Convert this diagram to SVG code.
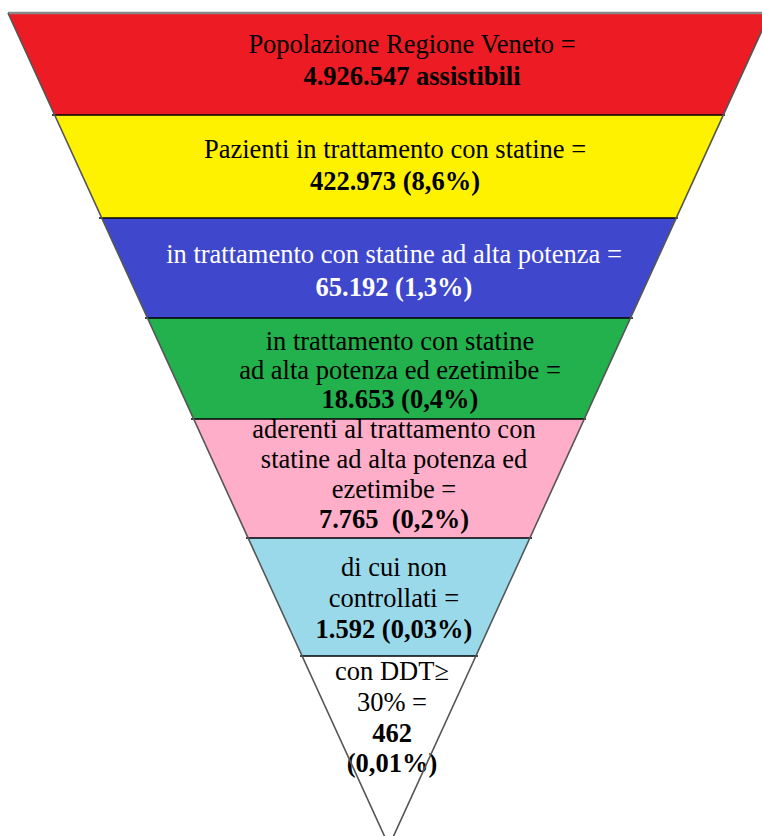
<svg xmlns="http://www.w3.org/2000/svg" width="762" height="836" viewBox="0 0 762 836">
<style>
.t{font-family:"Liberation Serif","Times New Roman",serif;font-size:26.5px;text-anchor:middle;fill:#000}
.b{font-weight:bold}
.w{fill:#fff}
.sep{stroke:#000;stroke-width:1.5;fill:none}
.edge{stroke:#555;stroke-width:1.6;fill:none}
</style>
<rect width="762" height="836" fill="#fff"/>
<g id="band1">
<polygon points="8,13 770,13 723.3,115 54.7,115" fill="#ED1C24"/>
<text class="t" x="412" y="53">Popolazione Regione Veneto =</text>
<text class="t b" x="412" y="85">4.926.547 assistibili</text>
</g>
<g id="band2">
<polygon points="54.7,115 723.3,115 676.2,218 101.8,218" fill="#FFF200"/>
<text class="t" x="395" y="158">Pazienti in trattamento con statine =</text>
<text class="t b" x="395" y="190">422.973 (8,6%)</text>
</g>
<g id="band3">
<polygon points="101.8,218 676.2,218 630.5,318 147.5,318" fill="#3F48CC"/>
<text class="t w" x="394" y="263">in trattamento con statine ad alta potenza =</text>
<text class="t b w" x="394" y="296">65.192 (1,3%)</text>
</g>
<g id="band4">
<polygon points="147.5,318 630.5,318 584.3,419 193.7,419" fill="#22B14C"/>
<text class="t" x="400" y="350">in trattamento con statine</text>
<text class="t" x="400" y="379">ad alta potenza ed ezetimibe =</text>
<text class="t b" x="400" y="408">18.653 (0,4%)</text>
</g>
<g id="band5">
<polygon points="193.7,419 584.3,419 529.9,538 248.1,538" fill="#FFAEC9"/>
<text class="t" x="394" y="438">aderenti al trattamento con</text>
<text class="t" x="394" y="468">statine ad alta potenza ed</text>
<text class="t" x="394" y="498">ezetimibe =</text>
<text class="t b" x="394" y="528" xml:space="preserve">7.765  (0,2%)</text>
</g>
<g id="band6">
<polygon points="248.1,538 529.9,538 475.9,656 302.1,656" fill="#99D9EA"/>
<text class="t" x="394" y="576">di cui non</text>
<text class="t" x="394" y="607">controllati =</text>
<text class="t b" x="394" y="638">1.592 (0,03%)</text>
</g>
<g id="band7">
<polygon points="302.1,656 475.9,656 389,846" fill="#fff"/>
<text class="t" x="392" y="680">con DDT≥</text>
<text class="t" x="392" y="711">30% =</text>
<text class="t b" x="392" y="742">462</text>
<text class="t b" x="392" y="772">(0,01%)</text>
</g>
<g id="outline">
<line class="sep" x1="52" y1="115" x2="725" y2="115"/>
<line class="sep" x1="99" y1="218" x2="678" y2="218"/>
<line class="sep" x1="145" y1="318" x2="633" y2="318"/>
<line class="sep" x1="191" y1="419" x2="586" y2="419"/>
<line class="sep" x1="246" y1="538" x2="532" y2="538"/>
<line class="sep" x1="300" y1="656" x2="478" y2="656"/>
<line x1="8" y1="13" x2="770" y2="13" stroke="#888" stroke-width="2.5"/>
<polyline class="edge" points="8,13 389,846 770,13"/>
</g>
</svg>
